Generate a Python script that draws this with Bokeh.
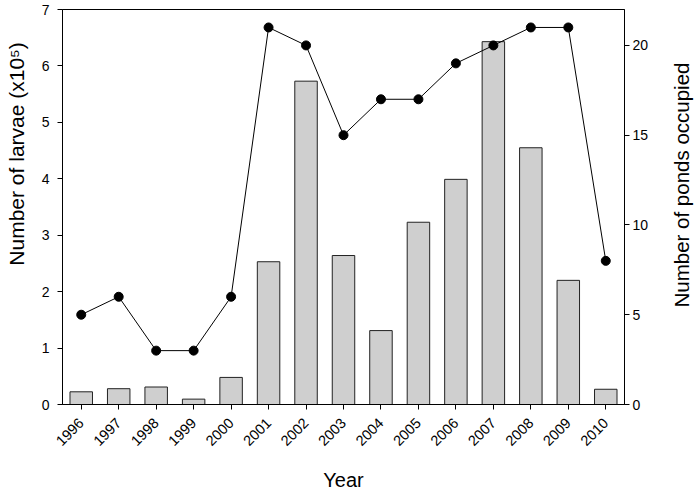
import math
from bokeh.plotting import figure
from bokeh.models import Range1d, LinearAxis, FixedTicker, ColumnDataSource, FactorRange
from bokeh.layouts import row
from bokeh.core.properties import value
from bokeh.embed import file_html
from bokeh.resources import INLINE

# ---- data ----
years = ["1996", "1997", "1998", "1999", "2000", "2001", "2002", "2003",
         "2004", "2005", "2006", "2007", "2008", "2009", "2010"]
larvae = [0.225, 0.28, 0.31, 0.095, 0.48, 2.53, 5.73, 2.64,
          1.31, 3.23, 3.99, 6.43, 4.55, 2.20, 0.27]          # x10^5
ponds = [5, 6, 3, 3, 6, 21, 20, 15, 17, 17, 19, 20, 21, 21, 8]
left_ticks = [0, 1, 2, 3, 4, 5, 6, 7]
right_ticks = [0, 5, 10, 15, 20]
left_title = "Number of larvae (x10\u2075)"
right_title = "Number of ponds occupied"
x_title = "Year"

FONT = "Liberation Sans"
H = 490

src = ColumnDataSource(dict(year=years, larvae=larvae, ponds=ponds))

p = figure(x_range=FactorRange(factors=years), y_range=Range1d(0, 7),
           frame_width=562, frame_height=395,
           min_border_left=32, min_border_right=30, min_border_top=9, min_border_bottom=86,
           output_backend="svg", toolbar_location=None)
p.background_fill_color = "white"
p.border_fill_color = "white"
p.outline_line_color = "black"
p.outline_line_width = 1
p.xgrid.visible = False
p.ygrid.visible = False
p.x_range.range_padding = 0

p.extra_y_ranges = {"ponds": Range1d(0, 22)}

p.vbar(x="year", top="larvae", width=0.6, source=src,
       fill_color="#cfcfcf", line_color="#222222", line_width=1)
p.line(x="year", y="ponds", source=src, y_range_name="ponds",
       line_color="black", line_width=1)
p.scatter(x="year", y="ponds", source=src, y_range_name="ponds",
          size=9, fill_color="black", line_color="black")

ya = p.yaxis[0]
ya.ticker = FixedTicker(ticks=left_ticks)
ya.major_label_standoff = 8

ra = LinearAxis(y_range_name="ponds", ticker=FixedTicker(ticks=right_ticks))
p.add_layout(ra, "right")
ra.major_label_standoff = 3

xa = p.xaxis[0]
xa.axis_label = x_title
xa.major_label_orientation = math.pi / 4
xa.major_label_standoff = 11
xa.axis_label_standoff = 16

for ax in [xa, ya, ra]:
    ax.axis_line_color = "black"
    ax.major_tick_line_color = "black"
    ax.major_tick_in = 0
    ax.major_tick_out = 5
    ax.minor_tick_line_color = None
    ax.major_label_text_font = FONT
    ax.major_label_text_font_size = "14px"
    ax.major_label_text_color = "black"
    ax.axis_label_text_font = FONT
    ax.axis_label_text_font_size = "20px"
    ax.axis_label_text_font_style = "normal"
    ax.axis_label_text_color = "black"
xa.major_label_text_font_size = "14.5px"


def side_title(width, text, cx, cy, size):
    s = figure(width=width, height=H, x_range=Range1d(0, width), y_range=Range1d(0, H),
               x_axis_type=None, y_axis_type=None, min_border=0,
               output_backend="svg", toolbar_location=None)
    s.outline_line_color = None
    s.xgrid.visible = False
    s.ygrid.visible = False
    s.text(x=[cx], y=[H - cy], text=[text], angle=math.pi / 2,
           text_align="center", text_baseline="middle",
           text_font=value(FONT), text_font_size=size, text_color="black")
    return s


left = side_title(30, left_title, 16, 181, "21px")
right = side_title(41, right_title, 27, 220, "20.5px")

layout = row(left, p, right)
open("out.html", "w").write(file_html(layout, INLINE))
